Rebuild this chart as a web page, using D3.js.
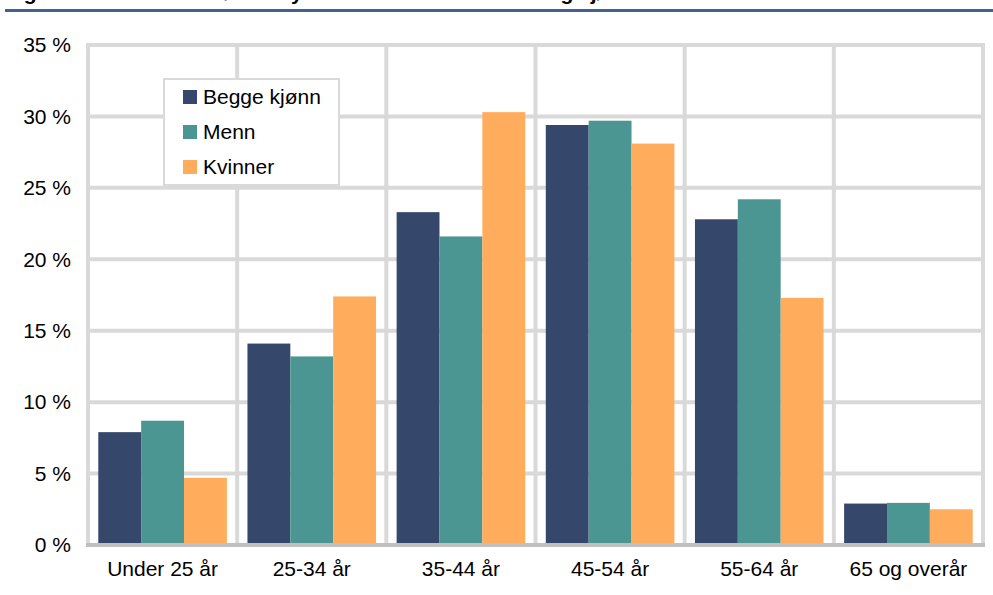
<!DOCTYPE html>
<html>
<head>
<meta charset="utf-8">
<script src="https://cdn.jsdelivr.net/npm/d3@7"></script>
<style>
  body { margin: 0; background: #fff; }
  svg { display: block; font-family: "Liberation Sans", Arial, sans-serif; }
</style>
</head>
<body>
<div id="chart"></div>
<script>
const categories = ["Under 25 år", "25-34 år", "35-44 år", "45-54 år", "55-64 år", "65 og overår"];
const seriesNames = ["Begge kjønn", "Menn", "Kvinner"];
const begge = [7.9, 14.1, 23.3, 29.4, 22.8, 2.9];
const menn = [8.7, 13.2, 21.6, 29.7, 24.2, 2.95];
const kvinner = [4.7, 17.4, 30.3, 28.1, 17.3, 2.5];
const yTicks = [0, 5, 10, 15, 20, 25, 30, 35];
const colors = ["#35476a", "#4b9592", "#ffac5d"];

const width = 993, height = 595;
const plotLeft = 88, plotRight = 983, plotTop = 45, plotBottom = 545;

const svg = d3.select("#chart").append("svg")
    .attr("width", width)
    .attr("height", height);

// title runs off the top edge in the reference, only descenders show
svg.append("text")
    .attr("x", 5)
    .attr("y", 0)
    .style("font-weight", "bold")
    .style("font-size", "21px")
    .style("fill", "#000")
    .text("Figur 3.1 Helt arbeidsløse i byene fordelt etter alderen og kjønn");
svg.append("line")
    .attr("x1", 5).attr("x2", width)
    .attr("y1", 10.5).attr("y2", 10.5)
    .style("stroke", "#44608f")
    .style("stroke-width", 3);

const y = d3.scaleLinear().domain([0, 35]).range([plotBottom, plotTop]);
const x0 = d3.scaleBand().domain(categories).range([plotLeft, plotRight]).padding(0);
const x1 = d3.scaleBand().domain(seriesNames).range([0, x0.bandwidth()])
    .paddingInner(0).paddingOuter(0.24);

const rows = categories.map((c, i) => ({ cat: c, vals: [begge[i], menn[i], kvinner[i]] }));

// gridlines
svg.append("g").selectAll("line")
    .data(yTicks.filter(t => t > 0))
    .enter().append("line")
    .attr("x1", plotLeft).attr("x2", plotRight)
    .attr("y1", d => y(d)).attr("y2", d => y(d))
    .style("stroke", "#d9d9d9")
    .style("stroke-width", 4);

const vLines = categories.map(c => x0(c)).concat([plotRight]);
svg.append("g").selectAll("line")
    .data(vLines)
    .enter().append("line")
    .attr("x1", d => d).attr("x2", d => d)
    .attr("y1", plotTop - 2).attr("y2", plotBottom)
    .style("stroke", "#d9d9d9")
    .style("stroke-width", 4);

// bars
const groups = svg.append("g").selectAll("g")
    .data(rows)
    .enter().append("g")
    .attr("transform", d => `translate(${x0(d.cat)},0)`);

groups.selectAll("rect")
    .data(d => d.vals.map((v, i) => ({ name: seriesNames[i], value: v, i: i })))
    .enter().append("rect")
    .attr("x", d => x1(d.name))
    .attr("width", x1.bandwidth())
    .attr("y", d => y(d.value))
    .attr("height", d => y(0) - y(d.value))
    .style("fill", d => colors[d.i]);

// bottom axis line
svg.append("line")
    .attr("x1", plotLeft - 2).attr("x2", plotRight + 2)
    .attr("y1", plotBottom).attr("y2", plotBottom)
    .style("stroke", "#bfbfbf")
    .style("stroke-width", 4);

// y labels
svg.append("g").selectAll("text")
    .data(yTicks)
    .enter().append("text")
    .attr("x", 71)
    .attr("y", d => y(d))
    .attr("dy", "0.35em")
    .attr("text-anchor", "end")
    .style("font-size", "21px")
    .style("fill", "#000")
    .text(d => d + " %");

// x labels
svg.append("g").selectAll("text")
    .data(categories)
    .enter().append("text")
    .attr("x", d => x0(d) + x0.bandwidth() / 2)
    .attr("y", 576)
    .attr("text-anchor", "middle")
    .style("font-size", "21px")
    .style("fill", "#000")
    .text(d => d);

// legend
const legend = svg.append("g").attr("transform", "translate(164,79)");
legend.append("rect")
    .attr("width", 175).attr("height", 106)
    .style("fill", "#fff")
    .style("stroke", "#d9d9d9")
    .style("stroke-width", 2);

const items = legend.selectAll("g.item")
    .data(seriesNames)
    .enter().append("g")
    .attr("class", "item")
    .attr("transform", (d, i) => `translate(19,${11 + i * 35})`);
items.append("rect")
    .attr("width", 14).attr("height", 14)
    .style("fill", (d, i) => colors[i]);
items.append("text")
    .attr("x", 20)
    .attr("y", 7)
    .attr("dy", "0.35em")
    .style("font-size", "21px")
    .style("fill", "#000")
    .text(d => d);
</script>
</body>
</html>
